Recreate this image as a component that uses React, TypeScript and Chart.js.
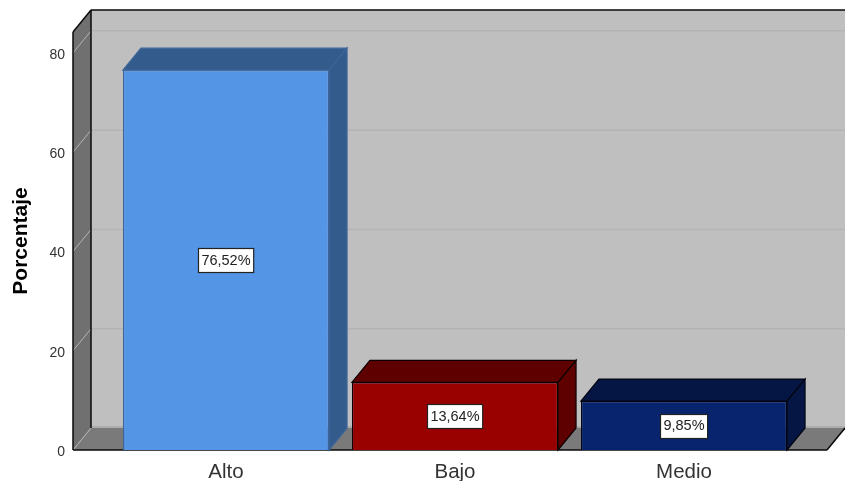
import { useEffect, useRef } from "react";
import { Chart, registerables } from "chart.js";

Chart.register(...registerables);

const categories = ["Alto", "Bajo", "Medio"];
const percentages = [76.52, 13.64, 9.85];
const valueLabels = ["76,52%", "13,64%", "9,85%"];
const frontColors = ["#5495e6", "#990000", "#08246e"];
const shadeColors = ["#335b8c", "#5e0000", "#051645"];
const edgeColors = ["#3c659a", "#0d0000", "#010510"];

const DEPTH_X = 18;
const DEPTH_Y = 22;
const FONT = '"Liberation Sans", Arial, sans-serif';

function poly(ctx: CanvasRenderingContext2D, pts: number[][], fill?: string, stroke?: string, lw = 1) {
  ctx.beginPath();
  pts.forEach(([x, y], i) => (i ? ctx.lineTo(x, y) : ctx.moveTo(x, y)));
  ctx.closePath();
  if (fill) {
    ctx.fillStyle = fill;
    ctx.fill();
  }
  if (stroke) {
    ctx.strokeStyle = stroke;
    ctx.lineWidth = lw;
    ctx.stroke();
  }
}

function line(ctx: CanvasRenderingContext2D, x1: number, y1: number, x2: number, y2: number, color: string, lw = 1) {
  ctx.beginPath();
  ctx.moveTo(x1, y1);
  ctx.lineTo(x2, y2);
  ctx.strokeStyle = color;
  ctx.lineWidth = lw;
  ctx.stroke();
}

// Back wall, side wall, floor and gridlines of the box behind the bars.
const boxPlugin = {
  id: "box",
  beforeDatasetsDraw(chart: any) {
    const { ctx, chartArea: a, scales } = chart;
    const dx = DEPTH_X;
    const dy = DEPTH_Y;
    ctx.save();
    ctx.fillStyle = "#bfbfbf";
    ctx.fillRect(a.left + dx, a.top - dy, a.right - a.left, a.bottom - a.top);
    poly(ctx, [[a.left, a.top], [a.left + dx, a.top - dy], [a.left + dx, a.bottom - dy], [a.left, a.bottom]], "#707070");
    poly(ctx, [[a.left, a.bottom], [a.left + dx, a.bottom - dy], [a.right + dx, a.bottom - dy], [a.right, a.bottom]], "#7a7a7a");
    for (const t of scales.y.ticks) {
      const y = scales.y.getPixelForValue(t.value);
      if (t.value > 0) line(ctx, a.left + dx, y - dy, a.right + dx, y - dy, "#b3b3b3", 1.5);
      line(ctx, a.left, y, a.left + dx, y - dy, "#b4b4b4", 1);
    }
    line(ctx, a.left + dx, a.bottom - dy - 1, a.right + dx, a.bottom - dy - 1, "#a6a6a6", 1.5);
    line(ctx, a.left + dx, a.top - dy, a.right + dx, a.top - dy, "#0a0a0a", 1.5);
    line(ctx, a.left, a.top, a.left + dx, a.top - dy, "#0a0a0a", 1.5);
    line(ctx, a.left + dx, a.top - dy, a.left + dx, a.bottom - dy, "#0a0a0a", 1.5);
    line(ctx, a.left, a.top, a.left, a.bottom, "#0a0a0a", 1.5);
    line(ctx, a.left, a.bottom, a.right, a.bottom, "#0a0a0a", 1.5);
    line(ctx, a.right, a.bottom, a.right + dx, a.bottom - dy, "#0a0a0a", 1.5);
    ctx.restore();
  },
  // Top and right faces of each bar, then the value boxes over the fronts.
  afterDatasetsDraw(chart: any) {
    const { ctx } = chart;
    const dx = DEPTH_X;
    const dy = DEPTH_Y;
    const meta = chart.getDatasetMeta(0);
    ctx.save();
    meta.data.forEach((bar: any, i: number) => {
      const l = bar.x - bar.width / 2;
      const r = bar.x + bar.width / 2;
      const t = bar.y;
      const b = bar.base;
      poly(ctx, [[l, t], [l + dx, t - dy], [r + dx, t - dy], [r, t]], shadeColors[i], edgeColors[i], 1.2);
      poly(ctx, [[r, t], [r + dx, t - dy], [r + dx, b - dy], [r, b]], shadeColors[i], edgeColors[i], 1.2);
    });
    ctx.font = `14.5px ${FONT}`;
    ctx.textAlign = "center";
    ctx.textBaseline = "middle";
    meta.data.forEach((bar: any, i: number) => {
      const cy = (bar.y + bar.base) / 2;
      const w = ctx.measureText(valueLabels[i]).width + 6;
      const h = 24;
      const bx = Math.round(bar.x - w / 2) + 0.5;
      const by = Math.round(cy - h / 2) + 0.5;
      ctx.fillStyle = "#ffffff";
      ctx.fillRect(bx, by, w, h);
      ctx.strokeStyle = "#222222";
      ctx.lineWidth = 1.2;
      ctx.strokeRect(bx, by, w, h);
      ctx.fillStyle = "#222222";
      ctx.fillText(valueLabels[i], bar.x, cy + 0.5);
    });
    ctx.restore();
  },
};

export default function App() {
  const ref = useRef<HTMLCanvasElement>(null);
  useEffect(() => {
    const chart = new Chart(ref.current!, {
      type: "bar",
      plugins: [boxPlugin],
      data: {
        datasets: [
          {
            data: percentages.map((y, x) => ({ x, y })),
            backgroundColor: frontColors,
            borderColor: edgeColors,
            borderWidth: 1.2,
            barPercentage: 0.9,
            categoryPercentage: 1,
          },
        ],
      },
      options: {
        animation: false,
        responsive: false,
        layout: { padding: { top: 32, right: 18, bottom: 0, left: 0 } },
        plugins: { legend: { display: false }, tooltip: { enabled: false } },
        scales: {
          x: {
            type: "linear",
            offset: false,
            min: -0.668,
            max: 2.6245,
            grid: { display: false, drawTicks: false },
            border: { display: false },
            afterBuildTicks: (s: any) => {
              s.ticks = categories.map((_, value) => ({ value }));
            },
            afterFit: (s: any) => {
              s.height = 31;
            },
            ticks: {
              callback: (v: any) => categories[v],
              autoSkip: false,
              maxRotation: 0,
              padding: 10,
              color: "#333333",
              font: { family: FONT, size: 20.5 },
            },
          },
          y: {
            min: 0,
            max: 84.2,
            grid: { display: false, drawTicks: false },
            border: { display: false },
            afterFit: (s: any) => {
              s.width = 73;
            },
            ticks: {
              stepSize: 20,
              includeBounds: false,
              padding: 8,
              labelOffset: 2,
              color: "#333333",
              font: { family: FONT, size: 14 },
            },
            title: {
              display: true,
              text: "Porcentaje",
              color: "#000000",
              padding: { top: 9, bottom: 0 },
              font: { family: FONT, size: 21, weight: "bold" },
            },
          },
        },
      },
    } as any);
    return () => chart.destroy();
  }, []);
  return (
    <canvas
      ref={ref}
      width={845}
      height={481}
      style={{ position: "absolute", left: 0, top: 0, width: 845, height: 481, background: "#ffffff" }}
    />
  );
}
